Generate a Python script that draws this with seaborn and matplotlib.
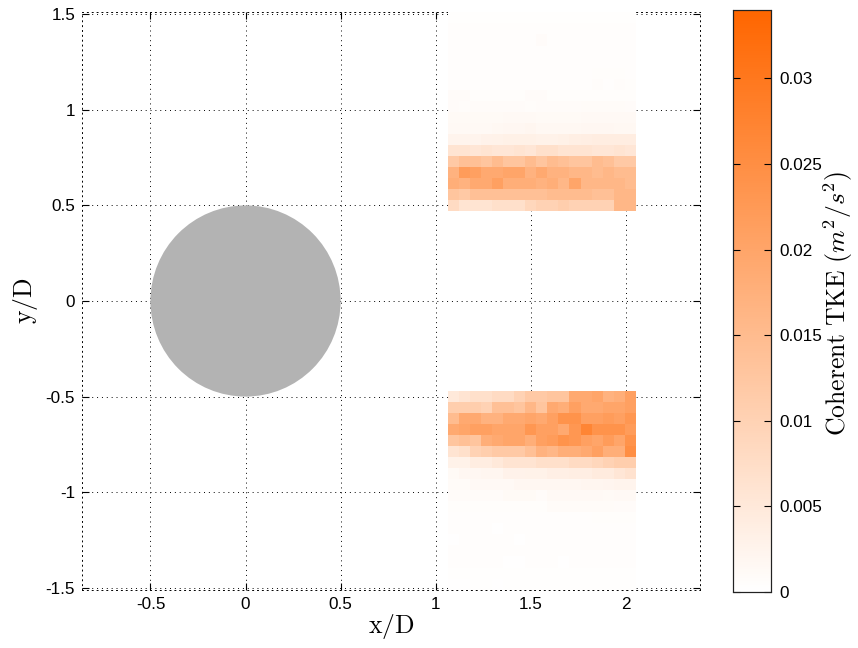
import numpy as np
import pandas as pd
import matplotlib
matplotlib.use("Agg")
import matplotlib.pyplot as plt
import seaborn as sns
from matplotlib.colors import LinearSegmentedColormap
from matplotlib.patches import Circle

# ---------------- data ----------------
x_ticks = [-0.5, 0, 0.5, 1, 1.5, 2]
x_tick_labels = ["-0.5", "0", "0.5", "1", "1.5", "2"]
y_ticks = [-1.5, -1, -0.5, 0, 0.5, 1, 1.5]
y_tick_labels = ["-1.5", "-1", "-0.5", "0", "0.5", "1", "1.5"]
cb_ticks = [0, 0.005, 0.01, 0.015, 0.02, 0.025, 0.03]
cb_tick_labels = ["0", "0.005", "0.01", "0.015", "0.02", "0.025", "0.03"]
clim = [0, 0.034]

# measurement window (x/D, y/D)
win_x = [1.063, 2.053]
upper_y = [0.47, 1.51]
lower_y = [-1.51, -0.47]

cyl_center = [0.0, 0.0]
cyl_radius = 0.5

# upper window, rows listed from top (y/D = 1.51) to bottom (y/D = 0.47)
upper_rows = [
    [0.0003, 0.0003, 0.0003, 0.0003, 0.0003, 0.0003, 0.0003, 0.0003, 0.0003, 0.0003, 0.0003, 0.0003, 0.0003, 0.0003, 0.0003, 0.0003, 0.0003],
    [0.0004, 0.0004, 0.0004, 0.0004, 0.0004, 0.0004, 0.0004, 0.0004, 0.0004, 0.0004, 0.0004, 0.0004, 0.0004, 0.0004, 0.0004, 0.0004, 0.0004],
    [0.0004, 0.0004, 0.0004, 0.0004, 0.0004, 0.0004, 0.0004, 0.0004, 0.0009, 0.0004, 0.0004, 0.0004, 0.0004, 0.0004, 0.0004, 0.0004, 0.0004],
    [0.0004, 0.0004, 0.0004, 0.0004, 0.0004, 0.0004, 0.0004, 0.0004, 0.0005, 0.0004, 0.0004, 0.0004, 0.0004, 0.0004, 0.0004, 0.0004, 0.0004],
    [0.0004, 0.0004, 0.0004, 0.0004, 0.0004, 0.0004, 0.0004, 0.0004, 0.0004, 0.0004, 0.0004, 0.0004, 0.0004, 0.0004, 0.0004, 0.0004, 0.0004],
    [0.0004, 0.0004, 0.0004, 0.0004, 0.0004, 0.0004, 0.0004, 0.0004, 0.0004, 0.0004, 0.0004, 0.0004, 0.0004, 0.0006, 0.0006, 0.0006, 0.0004],
    [0.0004, 0.0004, 0.0004, 0.0004, 0.0004, 0.0004, 0.0004, 0.0004, 0.0004, 0.0004, 0.0004, 0.0004, 0.0004, 0.0007, 0.0005, 0.0007, 0.0006],
    [0.0008, 0.0008, 0.0006, 0.0006, 0.0006, 0.0006, 0.0006, 0.0008, 0.0008, 0.0006, 0.0006, 0.0006, 0.0006, 0.0006, 0.0006, 0.0006, 0.0006],
    [0.0009, 0.0007, 0.0009, 0.0009, 0.0009, 0.0009, 0.0009, 0.0007, 0.0009, 0.0009, 0.0009, 0.0009, 0.0010, 0.0010, 0.0010, 0.0010, 0.0009],
    [0.0012, 0.0012, 0.0012, 0.0012, 0.0012, 0.0014, 0.0014, 0.0014, 0.0012, 0.0012, 0.0012, 0.0012, 0.0014, 0.0014, 0.0014, 0.0014, 0.0014],
    [0.0014, 0.0014, 0.0014, 0.0014, 0.0016, 0.0018, 0.0018, 0.0020, 0.0016, 0.0016, 0.0016, 0.0016, 0.0018, 0.0018, 0.0018, 0.0016, 0.0016],
    [0.0025, 0.0025, 0.0025, 0.0028, 0.0030, 0.0032, 0.0032, 0.0032, 0.0030, 0.0030, 0.0032, 0.0036, 0.0038, 0.0040, 0.0040, 0.0040, 0.0040],
    [0.0060, 0.0060, 0.0055, 0.0060, 0.0055, 0.0055, 0.0060, 0.0055, 0.0070, 0.0070, 0.0060, 0.0060, 0.0060, 0.0055, 0.0055, 0.0060, 0.0055],
    [0.0120, 0.0140, 0.0140, 0.0130, 0.0150, 0.0130, 0.0130, 0.0150, 0.0130, 0.0150, 0.0140, 0.0130, 0.0130, 0.0150, 0.0140, 0.0120, 0.0120],
    [0.0170, 0.0220, 0.0210, 0.0190, 0.0190, 0.0200, 0.0200, 0.0170, 0.0190, 0.0170, 0.0170, 0.0160, 0.0160, 0.0150, 0.0160, 0.0150, 0.0150],
    [0.0180, 0.0170, 0.0190, 0.0190, 0.0210, 0.0180, 0.0180, 0.0180, 0.0170, 0.0180, 0.0160, 0.0200, 0.0160, 0.0160, 0.0160, 0.0160, 0.0150],
    [0.0130, 0.0120, 0.0140, 0.0140, 0.0140, 0.0140, 0.0140, 0.0140, 0.0140, 0.0150, 0.0150, 0.0150, 0.0150, 0.0140, 0.0140, 0.0160, 0.0160],
    [0.0080, 0.0060, 0.0060, 0.0060, 0.0070, 0.0070, 0.0070, 0.0090, 0.0100, 0.0100, 0.0110, 0.0100, 0.0100, 0.0100, 0.0100, 0.0160, 0.0160],
]

# lower window, rows listed from top (y/D = -0.47) to bottom (y/D = -1.51)
lower_rows = [
    [0.0050, 0.0060, 0.0070, 0.0070, 0.0080, 0.0080, 0.0100, 0.0120, 0.0120, 0.0130, 0.0130, 0.0190, 0.0190, 0.0200, 0.0170, 0.0180, 0.0210],
    [0.0110, 0.0110, 0.0110, 0.0100, 0.0140, 0.0140, 0.0130, 0.0160, 0.0130, 0.0190, 0.0180, 0.0210, 0.0190, 0.0190, 0.0200, 0.0200, 0.0210],
    [0.0150, 0.0190, 0.0190, 0.0170, 0.0170, 0.0190, 0.0190, 0.0200, 0.0190, 0.0210, 0.0240, 0.0240, 0.0210, 0.0210, 0.0220, 0.0210, 0.0230],
    [0.0190, 0.0200, 0.0210, 0.0210, 0.0200, 0.0200, 0.0200, 0.0230, 0.0210, 0.0210, 0.0190, 0.0230, 0.0270, 0.0240, 0.0240, 0.0240, 0.0220],
    [0.0130, 0.0140, 0.0130, 0.0180, 0.0190, 0.0200, 0.0200, 0.0180, 0.0210, 0.0220, 0.0240, 0.0230, 0.0210, 0.0200, 0.0220, 0.0200, 0.0240],
    [0.0060, 0.0070, 0.0100, 0.0110, 0.0120, 0.0120, 0.0120, 0.0140, 0.0170, 0.0160, 0.0180, 0.0180, 0.0190, 0.0210, 0.0180, 0.0180, 0.0250],
    [0.0030, 0.0030, 0.0040, 0.0040, 0.0050, 0.0060, 0.0060, 0.0060, 0.0070, 0.0070, 0.0070, 0.0080, 0.0080, 0.0090, 0.0100, 0.0110, 0.0110],
    [0.0012, 0.0018, 0.0018, 0.0020, 0.0020, 0.0028, 0.0028, 0.0030, 0.0030, 0.0035, 0.0035, 0.0038, 0.0038, 0.0045, 0.0045, 0.0055, 0.0065],
    [0.0010, 0.0010, 0.0014, 0.0014, 0.0014, 0.0014, 0.0018, 0.0018, 0.0018, 0.0018, 0.0018, 0.0018, 0.0020, 0.0020, 0.0022, 0.0025, 0.0025],
    [0.0008, 0.0008, 0.0008, 0.0008, 0.0008, 0.0012, 0.0012, 0.0012, 0.0008, 0.0014, 0.0014, 0.0014, 0.0014, 0.0014, 0.0012, 0.0014, 0.0014],
    [0.0006, 0.0006, 0.0006, 0.0006, 0.0006, 0.0006, 0.0006, 0.0006, 0.0006, 0.0010, 0.0010, 0.0010, 0.0010, 0.0010, 0.0010, 0.0008, 0.0008],
    [0.0005, 0.0005, 0.0005, 0.0005, 0.0005, 0.0005, 0.0005, 0.0005, 0.0005, 0.0005, 0.0005, 0.0005, 0.0005, 0.0006, 0.0006, 0.0006, 0.0006],
    [0.0005, 0.0005, 0.0005, 0.0005, 0.0002, 0.0005, 0.0005, 0.0005, 0.0005, 0.0005, 0.0005, 0.0005, 0.0005, 0.0005, 0.0005, 0.0005, 0.0004],
    [0.0002, 0.0005, 0.0005, 0.0005, 0.0005, 0.0005, 0.0002, 0.0005, 0.0005, 0.0005, 0.0005, 0.0005, 0.0005, 0.0005, 0.0005, 0.0005, 0.0005],
    [0.0004, 0.0004, 0.0004, 0.0004, 0.0004, 0.0004, 0.0004, 0.0004, 0.0004, 0.0004, 0.0004, 0.0004, 0.0004, 0.0004, 0.0004, 0.0004, 0.0004],
    [0.0004, 0.0004, 0.0004, 0.0004, 0.0004, 0.0002, 0.0002, 0.0004, 0.0004, 0.0004, 0.0002, 0.0004, 0.0004, 0.0004, 0.0004, 0.0004, 0.0004],
    [0.0003, 0.0003, 0.0003, 0.0003, 0.0003, 0.0003, 0.0003, 0.0003, 0.0003, 0.0003, 0.0003, 0.0003, 0.0003, 0.0003, 0.0003, 0.0003, 0.0003],
    [0.0002, 0.0002, 0.0003, 0.0003, 0.0002, 0.0003, 0.0003, 0.0003, 0.0003, 0.0003, 0.0003, 0.0003, 0.0003, 0.0003, 0.0003, 0.0003, 0.0003],
]

# ---------------- style ----------------
plt.rcParams["font.family"] = ["Liberation Sans", "DejaVu Sans"]
plt.rcParams["mathtext.fontset"] = "cm"
plt.rcParams["axes.unicode_minus"] = False

cmap = LinearSegmentedColormap.from_list("wo", ["#FFFFFF", "#FF6600"])

fig = plt.figure(figsize=(8.58, 6.48), dpi=100)
ax = fig.add_axes([82 / 858, 58 / 648, 618 / 858, 578 / 648])
cax = fig.add_axes([733 / 858, 56 / 648, 38 / 858, 582 / 648])

ax.set_xlim(-0.86, 2.39)
ax.set_ylim(-1.512, 1.512)

grid_kw = dict(color="k", linewidth=0.7, linestyle=(0, (1, 4)))
ax.grid(True, **grid_kw)
ax.set_axisbelow(True)
for sp in ax.spines.values():
    sp.set_linestyle((0, (1, 4)))
    sp.set_linewidth(0.7)

ax.set_xticks(x_ticks)
ax.set_xticklabels(x_tick_labels)
ax.set_yticks(y_ticks)
ax.set_yticklabels(y_tick_labels)
ax.tick_params(direction="in", length=5, width=0.8, top=True, right=True,
               labelsize=12.3, pad=5)

ax.add_patch(Circle(cyl_center, cyl_radius, facecolor="#B3B3B3", edgecolor="none", zorder=3))

df_up = pd.DataFrame(upper_rows)
df_lo = pd.DataFrame(lower_rows)

ins_up = ax.inset_axes([win_x[0], upper_y[0], win_x[1] - win_x[0], upper_y[1] - upper_y[0]],
                       transform=ax.transData)
ins_lo = ax.inset_axes([win_x[0], lower_y[0], win_x[1] - win_x[0], lower_y[1] - lower_y[0]],
                       transform=ax.transData)

sns.heatmap(df_up, ax=ins_up, cmap=cmap, vmin=clim[0], vmax=clim[1],
            cbar=True, cbar_ax=cax, xticklabels=False, yticklabels=False)
sns.heatmap(df_lo, ax=ins_lo, cmap=cmap, vmin=clim[0], vmax=clim[1],
            cbar=False, xticklabels=False, yticklabels=False)
for ins in (ins_up, ins_lo):
    ins.set_axis_off()

ax.set_xlabel(r"$\mathrm{x/D}$", fontsize=18.5, labelpad=0)
ax.set_ylabel(r"$\mathrm{y/D}$", fontsize=18.5, labelpad=4)

cax.set_yticks(cb_ticks)
cax.set_yticklabels(cb_tick_labels)
cax.tick_params(direction="in", length=5, width=0.8, left=True, right=True,
                labelsize=12.3, pad=6)
for sp in cax.spines.values():
    sp.set_visible(True)
    sp.set_linewidth(0.8)
    sp.set_color("#222222")
cax.set_ylabel("")
fig.text(838 / 858, 1 - 303 / 648, r"$\mathrm{Coherent\ TKE\ (}m^2/s^2\mathrm{)}$",
         rotation=90, fontsize=18.5, ha="center", va="center")

fig.savefig("out.png", dpi=100)
